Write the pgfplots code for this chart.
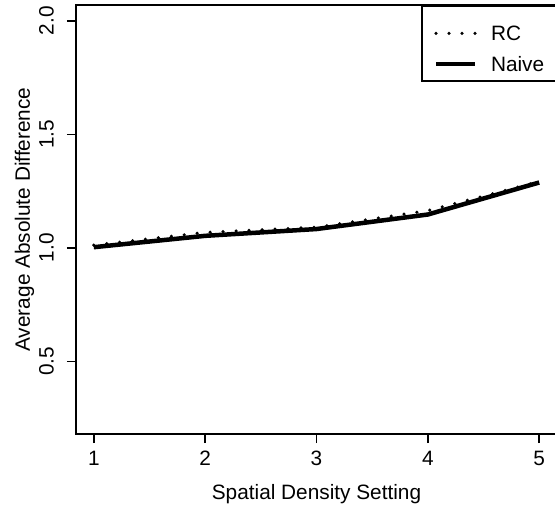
\documentclass[border=0pt]{standalone}
\usepackage{fontspec}
\setmainfont{Liberation Sans}
\usepackage{pgfplots}
\pgfplotsset{compat=1.18}
\newcommand\rfont{\fontsize{20.8bp}{25bp}\selectfont}
\begin{document}
\begin{tikzpicture}[font=\rfont]
\begin{axis}[
  scale only axis,
  width=481bp, height=429bp,
  xmin=0.84, xmax=5.16, ymin=0.18, ymax=2.07,
  xtick={1,2,3,4,5}, ytick={0.5,1,1.5,2},
  axis line style={line width=1.6bp},
  tick style={black, line width=1.6bp},
  major tick length=9bp, tick align=outside,
  xtick pos=bottom, ytick pos=left,
  /pgf/number format/assume math mode=true,
  yticklabel style={/pgf/number format/fixed, /pgf/number format/fixed zerofill,
    /pgf/number format/precision=1, rotate=90, anchor=south, inner sep=0pt},
  xticklabel style={anchor=north, inner sep=0pt},
  xticklabel shift=8bp, yticklabel shift=13bp,
  xlabel={Spatial Density Setting},
  ylabel={Average Absolute Difference},
  every axis x label/.style={at={(axis description cs:0.5,-0.14)}, anchor=center},
  every axis y label/.style={at={(axis description cs:-0.107,0.5)}, rotate=90, anchor=center},
  legend cell align=left,
  legend image code/.code={\draw[#1] (0bp,-5bp) -- (39bp,-5bp);
    \path[draw=none, fill=none] (0bp,-5bp) -- (55bp,-5bp);},
  legend style={at={(1,1)}, anchor=north east, draw=black, line width=1.6bp,
    inner xsep=12bp, inner ysep=10bp, column sep=0bp, row sep=5.5bp,
    nodes={inner sep=0pt, text height=25bp, text depth=0bp}},
]
\addplot[black, line width=3.5bp, line cap=round, dash pattern=on 0bp off 13bp]
  coordinates {(1,1.012) (2,1.068) (3,1.091) (4,1.164) (5,1.292)};
\addlegendentry{RC}
\addplot[black, line width=4.5bp]
  coordinates {(1,1.003) (2,1.053) (3,1.083) (4,1.147) (5,1.288)};
\addlegendentry{Naive}
\end{axis}
\pgfresetboundingbox
\useasboundingbox (-76bp,-78bp) rectangle (479bp,434bp);
\end{tikzpicture}
\end{document}
